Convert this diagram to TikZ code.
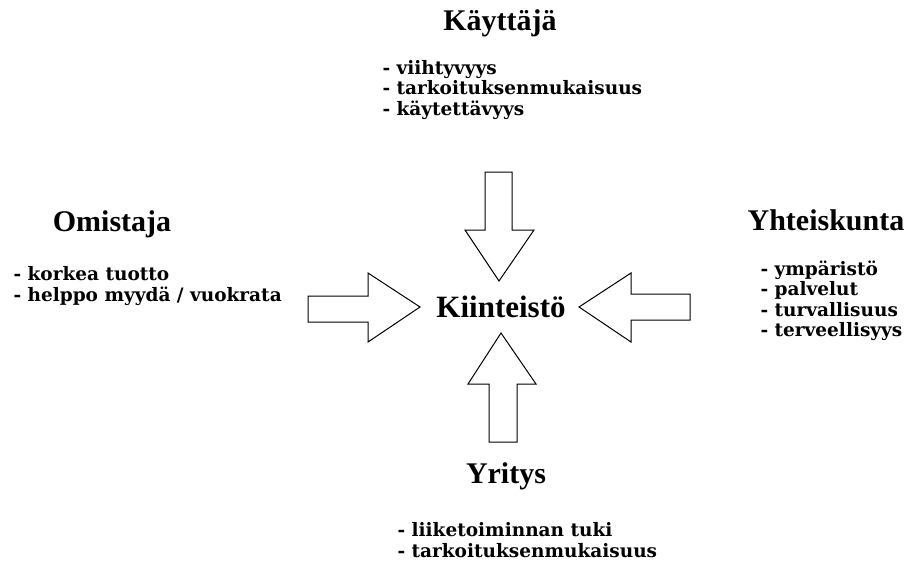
\documentclass[tikz,border=0pt]{standalone}
\usepackage{fontspec}
\setmainfont{Liberation Serif}
\newfontfamily\listfont{DejaVu Serif}
\usepackage{tikz}

\begin{document}
\begin{tikzpicture}[x=1pt, y=-1pt, line width=1pt, line join=miter]

\tikzstyle{every node}=[inner sep=0pt, text=black]
\tikzstyle{heading}=[font=\bfseries\fontsize{30}{30}\selectfont]
\tikzstyle{itemlist}=[anchor=west, align=left, font=\listfont\bfseries\fontsize{18.5}{20.5}\selectfont]
\tikzstyle{blockarrow}=[draw=black, fill=white]

\useasboundingbox (0,0) rectangle (909,567);

% centre
\node[font=\bfseries\fontsize{31}{31}\selectfont] (kiinteisto) at (501,307) {Kiinteist\"o};

% headings
\node[heading] (kayttaja) at (500,23) {K\"aytt\"aj\"a};
\node[heading] (omistaja) at (112,224) {Omistaja};
\node[heading] (yhteiskunta) at (826,220) {Yhteiskunta};
\node[heading] (yritys) at (506,476) {Yritys};

% lists
\node[itemlist] (kayttajalist) at (382,90) {- viihtyvyys\\- tarkoituksenmukaisuus\\- k\"aytett\"avyys};
\node[itemlist] (omistajalist) at (13,286) {- korkea tuotto\\- helppo myyd\"a / vuokrata};
\node[itemlist] (yhteislist) at (760,301) {- ymp\"arist\"o\\- palvelut\\- turvallisuus\\- terveellisyys};
\node[itemlist] (yrityslist) at (397,540) {- liiketoiminnan tuki\\- tarkoituksenmukaisuus};

% arrows
\draw[blockarrow] (485,172) -- (512,172) -- (512,230) -- (534,230) -- (499,281)
    -- (465,230) -- (485,230) -- cycle;
\draw[blockarrow] (308,296) -- (368,296) -- (368,273) -- (420,307) -- (368,342)
    -- (368,322) -- (308,322) -- cycle;
\draw[blockarrow] (690,294) -- (631,294) -- (631,273) -- (579,307) -- (631,342)
    -- (631,320) -- (690,320) -- cycle;
\draw[blockarrow] (489,442) -- (517,442) -- (517,384) -- (536,384) -- (501,333)
    -- (468,384) -- (489,384) -- cycle;

\end{tikzpicture}
\end{document}
